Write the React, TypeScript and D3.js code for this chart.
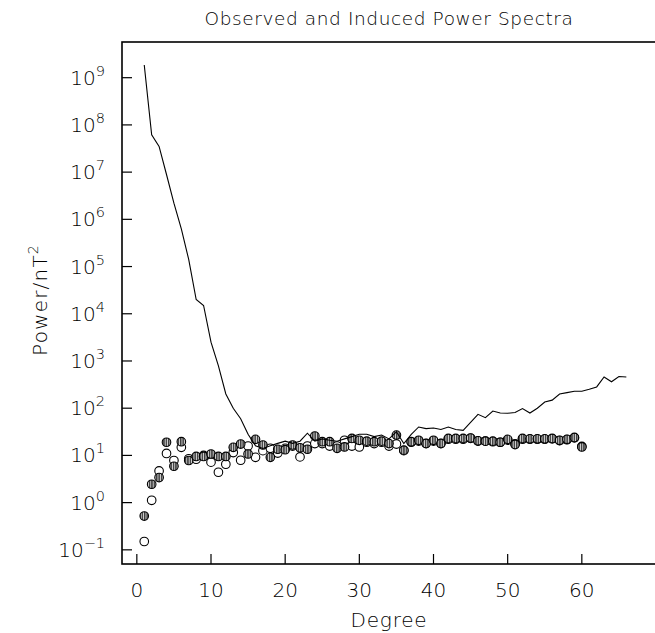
import React from "react";
import * as d3 from "d3";

const degreesLine = d3.range(1, 67);
const observed = [
  1.86e9, 6.2e7, 3.5e7, 8.9e6, 2.2e6, 6.3e5, 1.4e5, 2.0e4, 1.5e4, 2.5e3,
  7.9e2, 200, 100, 60, 28, 16, 14, 16, 18, 20,
  18, 20, 29.5, 20, 22.4, 21, 20, 22.4, 25, 28,
  28, 25, 27, 22.4, 31.6, 17.8, 28, 40, 37, 38,
  35.5, 40, 35.5, 34, 50, 74, 63, 87, 79, 78,
  81, 98, 79, 100, 135, 148, 200, 214, 229, 229,
  251, 282, 457, 363, 468, 457,
];

const degreesPts = d3.range(1, 61);
const inducedHatched = [
  0.52, 2.45, 3.4, 19, 5.9, 19.5, 7.8, 9.5, 9.5, 10.7,
  9.5, 9.5, 14.8, 17.4, 10.7, 21.9, 16.6, 9.1, 13.5, 13.2,
  16.6, 14.5, 13.5, 25.7, 19.5, 19.5, 14.1, 15.1, 22.9, 20.9,
  20, 19.5, 20, 17.8, 26.9, 12.9, 19.5, 20.9, 17.8, 20.9,
  17.8, 22.9, 22.9, 22.9, 23.4, 20.4, 20, 20, 19, 21.9,
  17, 22.9, 22.4, 22.4, 22.4, 22.9, 20.9, 21.9, 24, 15.1,
];
const inducedOpen = [
  0.15, 1.12, 4.7, 11, 7.8, 14.8, 8.5, 8.3, 10, 7.2,
  4.4, 6.5, 11.5, 7.9, 15.8, 9.1, 12.6, 14.1, 11.2, 14.1,
  15.8, 9.3, 15.8, 17.8, 17.8, 15.8, 15.8, 20.9, 15.8, 15.1,
  19, 17.8, 19, 15.8, 17.4, 12.6, 19, 20, 18, 20,
  18, 22, 22, 22, 23, 20, 20, 19.5, 19, 21,
  17.5, 22, 22, 22, 22, 22.5, 20.5, 21.5, 23.5, 15.5,
];

const xTicks = [0, 10, 20, 30, 40, 50, 60];
const yExps = [-1, 0, 1, 2, 3, 4, 5, 6, 7, 8, 9];

const title = "Observed and Induced Power Spectra";
const xLabel = "Degree";

export default function App() {
  const left = 122, right = 656, top = 42, bottom = 564;
  const x = d3.scaleLinear().domain([-2, 70]).range([left, right]);
  const y = d3.scaleLog().domain([Math.pow(10, -1.3), Math.pow(10, 9.756)]).range([bottom, top]);
  const line = d3.line<number>().x((_, i) => x(degreesLine[i])).y((v) => y(v));
  const font = "'DejaVu Sans', sans-serif";
  const ink = "#000";
  const r = 4.3;

  return (
    <svg width={655} height={633} style={{ position: "absolute", left: 0, top: 0, background: "#fff" }}>
      <defs>
        <pattern id="hatch" patternUnits="userSpaceOnUse" width={2.4} height={4}>
          <rect width={2.4} height={4} fill="#3c3c3c" />
          <rect x={1.5} width={0.9} height={4} fill="#e0e0e0" />
        </pattern>
        <clipPath id="plot">
          <rect x={left} y={top} width={right - left} height={bottom - top} />
        </clipPath>
      </defs>
      <rect width={655} height={633} fill="#fff" />
      <text x={389} y={25} textAnchor="middle" fontFamily={font} fontWeight={200} fontSize={18.5} letterSpacing={0.6} fill={ink}>
        {title}
      </text>
      <rect x={left} y={top} width={right - left} height={bottom - top} fill="none" stroke={ink} strokeWidth={1.6} />
      {yExps.map((e) => (
        <g key={e}>
          <line x1={left} x2={left + 10} y1={y(Math.pow(10, e))} y2={y(Math.pow(10, e))} stroke={ink} strokeWidth={1.2} />
          <text x={105} y={y(Math.pow(10, e)) + 7} textAnchor="end" fontFamily={font} fontWeight={200} fontSize={20} fill={ink}>
            10
            <tspan dy={-9} fontSize={14.5}>{e < 0 ? "\u2212" + Math.abs(e) : String(e)}</tspan>
          </text>
        </g>
      ))}
      {xTicks.map((t) => (
        <g key={t}>
          <line x1={x(t)} x2={x(t)} y1={bottom} y2={bottom - 10} stroke={ink} strokeWidth={1.2} />
          <text x={x(t)} y={597} textAnchor="middle" fontFamily={font} fontWeight={200} fontSize={20} fill={ink}>
            {t}
          </text>
        </g>
      ))}
      <text x={389} y={627} textAnchor="middle" fontFamily={font} fontWeight={200} fontSize={20} letterSpacing={0.8} fill={ink}>
        {xLabel}
      </text>
      <text transform="translate(47,300) rotate(-90)" textAnchor="middle" fontFamily={font} fontWeight={200} fontSize={20} letterSpacing={1.2} fill={ink}>
        Power/nT<tspan dy={-9} fontSize={14}>2</tspan>
      </text>
      <g clipPath="url(#plot)">
        {inducedOpen.map((v, i) => (
          <circle key={"o" + i} cx={x(degreesPts[i])} cy={y(v)} r={r} fill="#fff" stroke={ink} strokeWidth={1.1} />
        ))}
        {inducedHatched.map((v, i) => (
          <circle key={"h" + i} cx={x(degreesPts[i])} cy={y(v)} r={r} fill="url(#hatch)" stroke={ink} strokeWidth={1.1} />
        ))}
        <path d={line(observed) || ""} fill="none" stroke={ink} strokeWidth={1.1} />
      </g>
    </svg>
  );
}
